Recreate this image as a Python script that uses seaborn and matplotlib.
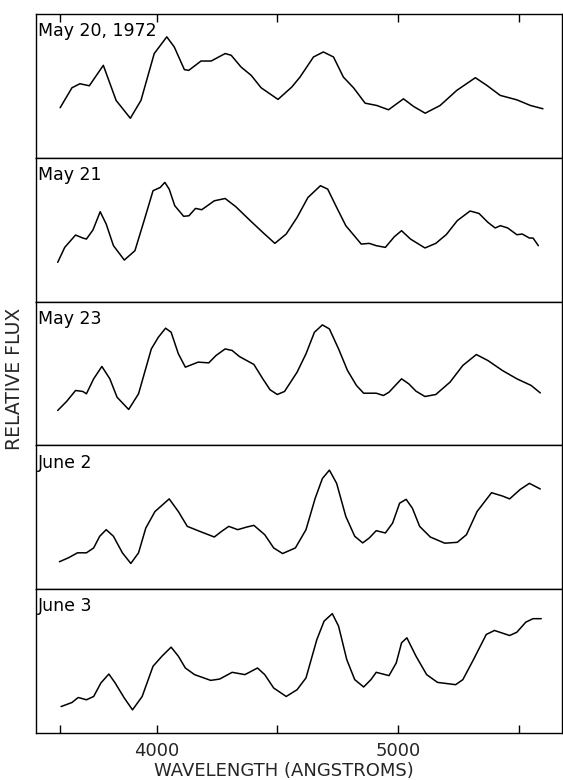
import matplotlib
matplotlib.use("Agg")
import matplotlib.pyplot as plt
from matplotlib.ticker import FixedLocator, FixedFormatter
import seaborn as sns
import pandas as pd

# panel titles (dates of observation)
dates = ["May 20, 1972", "May 21", "May 23", "June 2", "June 3"]

# wavelength ticks along the shared axis
tick_values = [3600, 4000, 4500, 5000, 5500]
tick_labels = ["", "4000", "", "5000", ""]

# spectra, flux in panel-relative units
may20_wave = [3600, 3649, 3682, 3721, 3779, 3832, 3891, 3935, 3990, 4042,
              4073, 4115, 4133, 4184, 4226, 4284, 4309, 4350, 4392, 4433,
              4503, 4560, 4594, 4650, 4691, 4733, 4774, 4816, 4864, 4912,
              4961, 5023, 5065, 5113, 5175, 5244, 5321, 5369, 5424, 5493,
              5549, 5601]
may20_flux = [0.348, 0.487, 0.515, 0.501, 0.643, 0.399, 0.275, 0.399, 0.725, 0.841,
              0.771, 0.613, 0.608, 0.673, 0.673, 0.725, 0.713, 0.631, 0.573, 0.487,
              0.406, 0.492, 0.561, 0.701, 0.736, 0.701, 0.561, 0.487, 0.380, 0.364,
              0.334, 0.410, 0.357, 0.310, 0.364, 0.469, 0.557, 0.503, 0.434, 0.403,
              0.364, 0.341]

may21_wave = [3590, 3619, 3664, 3694, 3709, 3736, 3766, 3791, 3821, 3866,
              3910, 3948, 3985, 4015, 4034, 4052, 4075, 4112, 4134, 4161,
              4187, 4239, 4284, 4328, 4388, 4440, 4490, 4537, 4582, 4627,
              4679, 4709, 4746, 4784, 4813, 4848, 4881, 4910, 4948, 4985,
              5015, 5052, 5112, 5157, 5201, 5246, 5299, 5336, 5373, 5403,
              5425, 5455, 5493, 5515, 5545, 5560, 5582]
may21_flux = [0.273, 0.377, 0.463, 0.442, 0.435, 0.498, 0.625, 0.539, 0.389, 0.289,
              0.354, 0.563, 0.771, 0.794, 0.829, 0.782, 0.667, 0.593, 0.597, 0.648,
              0.639, 0.701, 0.717, 0.660, 0.563, 0.481, 0.405, 0.470, 0.585, 0.724,
              0.806, 0.782, 0.655, 0.528, 0.470, 0.400, 0.405, 0.389, 0.377, 0.451,
              0.493, 0.435, 0.373, 0.405, 0.467, 0.563, 0.630, 0.613, 0.551, 0.512,
              0.528, 0.512, 0.465, 0.470, 0.442, 0.442, 0.389]

may23_wave = [3590, 3627, 3664, 3694, 3709, 3739, 3773, 3806, 3836, 3884,
              3925, 3978, 4007, 4037, 4060, 4090, 4119, 4172, 4216, 4246,
              4284, 4313, 4343, 4403, 4440, 4470, 4500, 4530, 4582, 4619,
              4654, 4687, 4716, 4754, 4791, 4828, 4858, 4910, 4940, 4963,
              5015, 5045, 5075, 5112, 5157, 5216, 5269, 5325, 5373, 5433,
              5493, 5552, 5590]
may23_flux = [0.243, 0.306, 0.382, 0.375, 0.359, 0.463, 0.549, 0.463, 0.335, 0.250,
              0.359, 0.671, 0.752, 0.815, 0.787, 0.637, 0.544, 0.579, 0.574, 0.625,
              0.671, 0.660, 0.618, 0.563, 0.463, 0.387, 0.354, 0.375, 0.509, 0.637,
              0.787, 0.838, 0.810, 0.671, 0.521, 0.417, 0.363, 0.363, 0.347, 0.370,
              0.463, 0.428, 0.377, 0.340, 0.354, 0.440, 0.556, 0.632, 0.590, 0.521,
              0.463, 0.417, 0.365]

june2_wave = [3597, 3634, 3672, 3709, 3739, 3764, 3791, 3821, 3858, 3893,
              3925, 3955, 3993, 4052, 4090, 4127, 4179, 4239, 4269, 4299,
              4336, 4373, 4403, 4448, 4485, 4522, 4575, 4619, 4657, 4687,
              4716, 4746, 4784, 4821, 4854, 4881, 4910, 4948, 4978, 5007,
              5034, 5060, 5090, 5134, 5194, 5246, 5284, 5328, 5388, 5433,
              5463, 5507, 5545, 5590]
june2_flux = [0.191, 0.218, 0.253, 0.253, 0.287, 0.368, 0.414, 0.368, 0.253, 0.179,
              0.253, 0.425, 0.540, 0.628, 0.540, 0.437, 0.402, 0.363, 0.402, 0.437,
              0.414, 0.432, 0.444, 0.379, 0.287, 0.248, 0.287, 0.414, 0.632, 0.770,
              0.828, 0.736, 0.506, 0.368, 0.322, 0.356, 0.407, 0.391, 0.460, 0.598,
              0.625, 0.563, 0.437, 0.363, 0.320, 0.326, 0.379, 0.540, 0.671, 0.648,
              0.628, 0.694, 0.736, 0.697]

june3_wave = [3604, 3649, 3675, 3709, 3739, 3769, 3802, 3828, 3866, 3900,
              3940, 3985, 4022, 4060, 4090, 4119, 4157, 4224, 4261, 4313,
              4366, 4418, 4448, 4485, 4537, 4582, 4619, 4664, 4694, 4728,
              4754, 4788, 4821, 4858, 4888, 4910, 4963, 4993, 5015, 5037,
              5075, 5119, 5164, 5239, 5269, 5313, 5366, 5400, 5463, 5493,
              5530, 5560, 5594]
june3_flux = [0.184, 0.212, 0.247, 0.231, 0.254, 0.348, 0.410, 0.348, 0.243, 0.161,
              0.254, 0.464, 0.534, 0.597, 0.534, 0.452, 0.406, 0.366, 0.375, 0.422,
              0.406, 0.452, 0.406, 0.313, 0.254, 0.301, 0.383, 0.650, 0.778, 0.830,
              0.743, 0.510, 0.371, 0.320, 0.371, 0.422, 0.399, 0.487, 0.627, 0.662,
              0.534, 0.406, 0.352, 0.336, 0.371, 0.510, 0.685, 0.713, 0.678, 0.701,
              0.771, 0.795, 0.795]

spectra = [
    (may20_wave, may20_flux),
    (may21_wave, may21_flux),
    (may23_wave, may23_flux),
    (june2_wave, june2_flux),
    (june3_wave, june3_flux),
]

frames = []
for date, (wave, flux) in zip(dates, spectra):
    frames.append(pd.DataFrame({"Wavelength": wave, "Flux": flux, "Date": date}))
df = pd.concat(frames, ignore_index=True)

sns.set_style("white")
plt.rcParams["font.family"] = ["DejaVu Sans"]
plt.rcParams["axes.edgecolor"] = "black"
plt.rcParams["axes.linewidth"] = 1.0

fig, axes = plt.subplots(5, 1, figsize=(5.63, 7.80), dpi=100, sharex=True)
fig.subplots_adjust(left=36 / 563, right=562 / 563, top=1 - 14 / 780,
                    bottom=1 - 733 / 780, hspace=0)

for i, (ax, date) in enumerate(zip(axes, dates)):
    sub = df[df["Date"] == date]
    sns.lineplot(data=sub, x="Wavelength", y="Flux", ax=ax, color="black",
                 linewidth=1.1, sort=False, estimator=None)
    ax.set_xlim(3500, 5680)
    ax.set_ylim(0, 1)
    ax.set_yticks([])
    ax.set_xlabel("")
    ax.set_ylabel("")
    ax.text(0.004, 0.845, date, transform=ax.transAxes, ha="left",
            va="baseline", fontsize=12.5, color="black")
    ax.tick_params(axis="x", which="both", bottom=False, top=False,
                   labelbottom=False, labeltop=False)

axes[0].xaxis.set_major_locator(FixedLocator(tick_values))
axes[0].xaxis.set_major_formatter(FixedFormatter(tick_labels))

# ticks only along the outer edges
axes[0].tick_params(axis="x", top=True, direction="in", length=6,
                    width=1, color="black")
axes[-1].tick_params(axis="x", bottom=True, labelbottom=True, direction="in",
                     length=6, width=1, color="black", pad=6.5,
                     labelsize=13)

fig.supxlabel("WAVELENGTH (ANGSTROMS)", x=283.5 / 563, y=3.5 / 780,
              va="baseline", ha="center", fontsize=13)
fig.supylabel("RELATIVE FLUX", x=14.5 / 563, y=1 - 379 / 780,
              ha="center", va="center", fontsize=13.5)

fig.savefig("out.png", dpi=100)
